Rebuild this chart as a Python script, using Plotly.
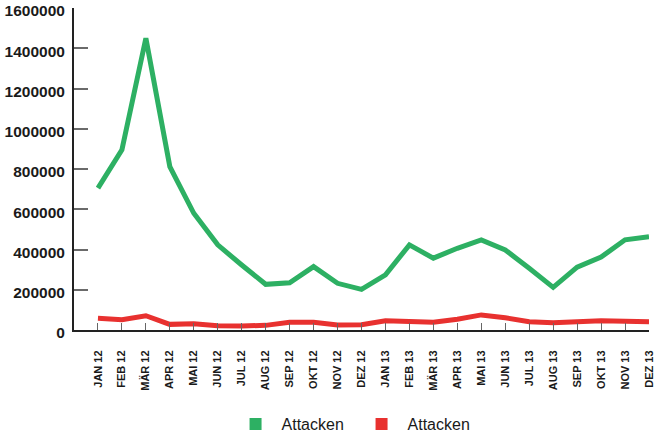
import plotly.graph_objects as go

months = ["JAN 12", "FEB 12", "MÄR 12", "APR 12", "MAI 12", "JUN 12", "JUL 12", "AUG 12",
          "SEP 12", "OKT 12", "NOV 12", "DEZ 12", "JAN 13", "FEB 13", "MÄR 13", "APR 13",
          "MAI 13", "JUN 13", "JUL 13", "AUG 13", "SEP 13", "OKT 13", "NOV 13", "DEZ 13"]

# green series
attacken_gruen = [705000, 895000, 1450000, 812000, 580000, 423000, 323000, 227000,
                  235000, 315000, 232000, 202000, 274000, 423000, 357000, 406000,
                  448000, 398000, 307000, 212000, 312000, 362000, 448000, 464000]

# red series
attacken_rot = [58000, 51000, 71000, 28000, 31000, 21000, 20000, 23000,
                38000, 38000, 25000, 26000, 46000, 43000, 38000, 53000,
                75000, 61000, 41000, 36000, 41000, 46000, 43000, 41000]

y_ticks = [0, 200000, 400000, 600000, 800000, 1000000, 1200000, 1400000, 1600000]

GREEN = "#2db063"
RED = "#e8312f"
FONT = "Liberation Sans, Arial, sans-serif"

x_idx = list(range(len(months)))

fig = go.Figure()

# the actual lines
for vals, col in [(attacken_gruen, GREEN), (attacken_rot, RED)]:
    fig.add_trace(go.Scatter(
        x=x_idx, y=vals, mode="lines",
        line=dict(color=col, width=5),
        showlegend=False, hoverinfo="skip"
    ))

# legend entries drawn as squares
for col in [GREEN, RED]:
    fig.add_trace(go.Scatter(
        x=[None], y=[None], mode="markers", name="Attacken",
        marker=dict(symbol="square", size=16, color=col)
    ))

fig.update_layout(
    width=656, height=438,
    margin=dict(l=74, r=7, t=8, b=108),
    plot_bgcolor="white", paper_bgcolor="white",
    font=dict(family=FONT, color="#1a1a1a"),
    legend=dict(
        orientation="h",
        xref="container", yref="container",
        x=0.542, y=0.032, xanchor="center", yanchor="middle",
        font=dict(size=16, family=FONT, color="#1a1a1a"),
        itemsizing="constant", itemwidth=42,
        entrywidth=69, entrywidthmode="pixels",
    ),
)

fig.update_xaxes(
    range=[-1, len(months) - 1],
    tickmode="array", tickvals=x_idx, ticktext=months,
    tickangle=-90,
    tickfont=dict(size=11, family=FONT, color="#1a1a1a", weight="bold"),
    ticks="inside", ticklen=7, tickwidth=1.2, tickcolor="#666666",
    ticklabelstandoff=14, ticklabeloverflow="allow",
    showline=True, linecolor="#222222", linewidth=2,
    showgrid=False, zeroline=False, automargin=False,
)

fig.update_yaxes(
    range=[0, 1600000],
    tickmode="array", tickvals=y_ticks, ticktext=[str(v) for v in y_ticks],
    tickfont=dict(size=15.5, family=FONT, color="#1a1a1a", weight="bold"),
    ticks="inside", ticklen=14, tickwidth=1.5, tickcolor="#6a6a6a",
    ticklabelstandoff=4, ticklabelshift=3, ticklabeloverflow="allow",
    showline=True, linecolor="#222222", linewidth=2,
    showgrid=False, zeroline=False, automargin=False,
)

# drop the default page margin so the figure sits at the window's corner
fig.write_html("out.html", config={"displayModeBar": False},
               post_script="document.body.style.margin='0';")
